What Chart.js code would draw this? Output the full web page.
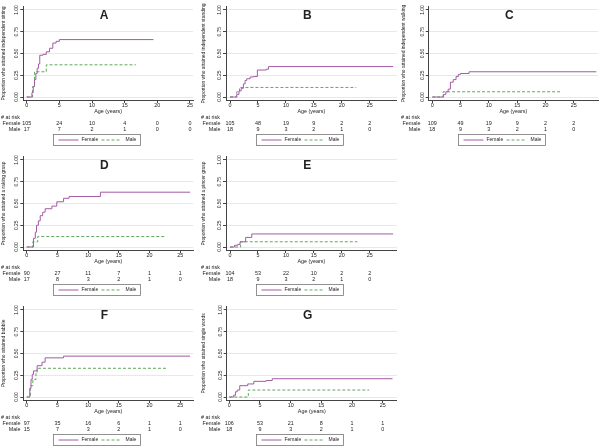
<!DOCTYPE html>
<html>
<head>
<meta charset="utf-8">
<script src="https://cdn.jsdelivr.net/npm/chart.js@4/dist/chart.umd.min.js"></script>
<style>
  html, body { margin: 0; padding: 0; background: #fff; }
  #wrap { position: relative; width: 600px; height: 446px; overflow: hidden; }
  canvas { position: absolute; }
</style>
</head>
<body>
<div id="wrap"></div>
<script>
// tick labels / categories
const riskTimes = [0, 5, 10, 15, 20, 25];
const yTickValues = [0, 0.25, 0.5, 0.75, 1];
const yTickLabels = ["0.00", "0.25", "0.50", "0.75", "1.00"];
const seriesNames = ["Female", "Male"];

// A - independent sitting
const sittingFemaleAge  = [0, 0.5, 0.8, 1.0, 1.2, 1.4, 1.6, 1.8, 2.0, 2.5, 3.0, 3.5, 4.0, 4.5, 5.0, 19.4];
const sittingFemaleProp = [0, 0, 0.05, 0.12, 0.2, 0.27, 0.33, 0.38, 0.48, 0.49, 0.52, 0.56, 0.62, 0.64, 0.66, 0.66];
const sittingMaleAge  = [0, 0.6, 0.9, 1.2, 3.0, 16.7];
const sittingMaleProp = [0, 0, 0.12, 0.29, 0.37, 0.37];
const sittingFemaleRisk = [105, 24, 10, 4, 0, 0];
const sittingMaleRisk   = [17, 7, 2, 1, 0, 0];

// B - independent standing
const standingFemaleAge  = [0, 0.8, 1.2, 1.6, 2.0, 2.4, 2.7, 3.0, 3.6, 4.2, 4.9, 6.5, 6.9, 29.2];
const standingFemaleProp = [0, 0, 0.03, 0.07, 0.1, 0.15, 0.19, 0.21, 0.23, 0.235, 0.31, 0.32, 0.35, 0.35];
const standingMaleAge  = [0, 1.2, 1.7, 22.6];
const standingMaleProp = [0, 0.06, 0.11, 0.11];
const standingFemaleRisk = [105, 48, 19, 9, 2, 2];
const standingMaleRisk   = [18, 9, 3, 2, 1, 0];

// C - independent walking
const walkingFemaleAge  = [0, 1.5, 2.0, 2.4, 2.8, 3.2, 3.7, 4.2, 4.6, 5.0, 6.5, 29.0];
const walkingFemaleProp = [0, 0, 0.03, 0.06, 0.09, 0.17, 0.2, 0.235, 0.26, 0.27, 0.29, 0.29];
const walkingMaleAge  = [0, 1.9, 22.8];
const walkingMaleProp = [0, 0.06, 0.06];
const walkingFemaleRisk = [109, 49, 19, 9, 2, 2];
const walkingMaleRisk   = [18, 9, 3, 2, 1, 0];

// D - raking grasp
const rakingFemaleAge  = [0, 0.8, 1.1, 1.4, 1.6, 1.9, 2.2, 2.6, 3.0, 4.1, 4.9, 6.0, 6.9, 12.0, 26.6];
const rakingFemaleProp = [0, 0, 0.1, 0.17, 0.25, 0.3, 0.36, 0.4, 0.44, 0.47, 0.52, 0.56, 0.58, 0.63, 0.63];
const rakingMaleAge  = [0, 0.6, 1.0, 1.8, 22.7];
const rakingMaleProp = [0, 0, 0.06, 0.12, 0.12];
const rakingFemaleRisk = [90, 27, 11, 7, 1, 1];
const rakingMaleRisk   = [17, 8, 3, 2, 1, 0];

// E - pincer grasp
const pincerFemaleAge  = [0, 0.8, 1.4, 1.8, 2.8, 3.9, 29.2];
const pincerFemaleProp = [0, 0.02, 0.03, 0.06, 0.11, 0.15, 0.15];
const pincerMaleAge  = [0, 1.9, 22.8];
const pincerMaleProp = [0, 0.06, 0.06];
const pincerFemaleRisk = [104, 53, 22, 10, 2, 2];
const pincerMaleRisk   = [18, 9, 3, 2, 1, 0];

// F - babble
const babbleFemaleAge  = [0, 0.3, 0.5, 0.7, 0.9, 1.1, 1.7, 2.5, 3.0, 6.0, 26.6];
const babbleFemaleProp = [0, 0, 0.1, 0.2, 0.26, 0.3, 0.36, 0.4, 0.45, 0.47, 0.47];
const babbleMaleAge  = [0, 0.3, 0.6, 1.0, 1.5, 1.7, 22.7];
const babbleMaleProp = [0, 0, 0.13, 0.2, 0.27, 0.33, 0.33];
const babbleFemaleRisk = [97, 35, 16, 6, 1, 1];
const babbleMaleRisk   = [15, 7, 3, 2, 1, 0];

// G - single words
const wordsFemaleAge  = [0, 0.7, 1.0, 1.3, 1.7, 3.0, 4.0, 6.0, 7.0, 26.6];
const wordsFemaleProp = [0, 0.02, 0.06, 0.08, 0.13, 0.15, 0.18, 0.19, 0.21, 0.21];
const wordsMaleAge  = [0, 3.1, 22.8];
const wordsMaleProp = [0, 0.08, 0.08];
const wordsFemaleRisk = [106, 53, 21, 8, 1, 1];
const wordsMaleRisk   = [18, 9, 3, 2, 1, 0];

const FEMALE = "#a35ba5";
const MALE = "#5fa85f";
const AXIS = "#444";
const GRID = "#e2ebe6";
const TEXT = "#222";
const FONT = '"Liberation Sans", Arial, sans-serif';
const W = 200, H = 146;

const panels = [
  { letter: "A", yTitle: "Proportion who attained independent sitting", f: [sittingFemaleAge, sittingFemaleProp], m: [sittingMaleAge, sittingMaleProp], fr: sittingFemaleRisk, mr: sittingMaleRisk, pos: [0, 0], axisLeft: 23.3, zero: 26.7, x25: 190, right: 193 },
  { letter: "B", yTitle: "Proportion who attained independent standing", f: [standingFemaleAge, standingFemaleProp], m: [standingMaleAge, standingMaleProp], fr: standingFemaleRisk, mr: standingMaleRisk, pos: [200, 0], axisLeft: 26, zero: 30, x25: 169.7, right: 196.7 },
  { letter: "C", yTitle: "Proportion who attained independent walking", f: [walkingFemaleAge, walkingFemaleProp], m: [walkingMaleAge, walkingMaleProp], fr: walkingFemaleRisk, mr: walkingMaleRisk, pos: [400, 0], axisLeft: 28.7, zero: 32.3, x25: 173.7, right: 198 },
  { letter: "D", yTitle: "Proportion who attained a raking grasp", f: [rakingFemaleAge, rakingFemaleProp], m: [rakingMaleAge, rakingMaleProp], fr: rakingFemaleRisk, mr: rakingMaleRisk, pos: [0, 150], axisLeft: 23.3, zero: 26.7, x25: 180.3, right: 193.3 },
  { letter: "E", yTitle: "Proportion who attained a pincer grasp", f: [pincerFemaleAge, pincerFemaleProp], m: [pincerMaleAge, pincerMaleProp], fr: pincerFemaleRisk, mr: pincerMaleRisk, pos: [200, 150], axisLeft: 26, zero: 30, x25: 169.7, right: 196.7 },
  { letter: "F", yTitle: "Proportion who attained babble", f: [babbleFemaleAge, babbleFemaleProp], m: [babbleMaleAge, babbleMaleProp], fr: babbleFemaleRisk, mr: babbleMaleRisk, pos: [0, 300], axisLeft: 23.3, zero: 26.7, x25: 180.3, right: 193.3 },
  { letter: "G", yTitle: "Proportion who attained single words", f: [wordsFemaleAge, wordsFemaleProp], m: [wordsMaleAge, wordsMaleProp], fr: wordsFemaleRisk, mr: wordsMaleRisk, pos: [200, 300], axisLeft: 26.7, zero: 29.3, x25: 182.7, right: 196.8 }
];

function toPoints(xs, ys) {
  return xs.map((x, i) => ({ x: x, y: ys[i] }));
}

// titles, tick labels, risk table and legend drawn from the chart's scales
const panelText = {
  id: "panelText",
  afterDraw(chart, args, o) {
    const ctx = chart.ctx;
    const a = chart.chartArea;
    const x = chart.scales.x, y = chart.scales.y;
    const mid = (a.left + a.right) / 2;
    ctx.save();
    ctx.fillStyle = TEXT;
    ctx.textBaseline = "middle";
    ctx.textAlign = "center";

    ctx.font = "bold 12px " + FONT;
    ctx.fillText(o.letter, mid - 4, 16);

    ctx.font = "5px " + FONT;
    yTickValues.forEach((v, i) => {
      ctx.save();
      ctx.translate(a.left - 6.5, y.getPixelForValue(v));
      ctx.rotate(-Math.PI / 2);
      ctx.fillText(yTickLabels[i], 0, 0);
      ctx.restore();
    });

    ctx.save();
    ctx.font = "4.9px " + FONT;
    ctx.translate(3.5, (y.getPixelForValue(0) + y.getPixelForValue(1)) / 2);
    ctx.rotate(-Math.PI / 2);
    ctx.fillText(o.yTitle, 0, 0);
    ctx.restore();

    ctx.font = "5.4px " + FONT;
    riskTimes.forEach(v => ctx.fillText(String(v), x.getPixelForValue(v), 106));
    ctx.fillText("Age (years)", mid, 111.5);

    ctx.textAlign = "left";
    ctx.fillText("# at risk", 1, 117.5);
    ctx.textAlign = "right";
    ctx.fillText(seriesNames[0], 20.5, 123.5);
    ctx.fillText(seriesNames[1], 20.5, 129.3);
    ctx.textAlign = "center";
    riskTimes.forEach((v, i) => {
      const px = x.getPixelForValue(v);
      ctx.fillText(String(o.femaleRisk[i]), px, 123.5);
      ctx.fillText(String(o.maleRisk[i]), px, 129.3);
    });

    // legend
    const bx = Math.round(mid - 12 - 43.5) + 0.5, by = 134.5;
    ctx.fillStyle = "#fff";
    ctx.fillRect(bx, by, 87, 11);
    ctx.strokeStyle = "#777";
    ctx.lineWidth = 0.8;
    ctx.strokeRect(bx, by, 87, 11);
    ctx.lineWidth = 1;
    ctx.strokeStyle = FEMALE;
    ctx.beginPath(); ctx.moveTo(bx + 5, by + 5.5); ctx.lineTo(bx + 25, by + 5.5); ctx.stroke();
    ctx.strokeStyle = MALE;
    ctx.setLineDash([3, 2]);
    ctx.beginPath(); ctx.moveTo(bx + 48, by + 5.5); ctx.lineTo(bx + 68, by + 5.5); ctx.stroke();
    ctx.setLineDash([]);
    ctx.fillStyle = TEXT;
    ctx.textAlign = "left";
    ctx.font = "5px " + FONT;
    ctx.fillText(seriesNames[0], bx + 28, by + 5.6);
    ctx.fillText(seriesNames[1], bx + 72, by + 5.6);
    ctx.restore();
  }
};

const wrap = document.getElementById("wrap");
panels.forEach(p => {
  const canvas = document.createElement("canvas");
  canvas.width = W;
  canvas.height = H;
  canvas.style.left = p.pos[0] + "px";
  canvas.style.top = p.pos[1] + "px";
  wrap.appendChild(canvas);

  const pxPerYear = (p.x25 - p.zero) / 25;
  const xMin = -(p.zero - p.axisLeft) / pxPerYear;
  const xMax = (p.right - p.zero) / pxPerYear;

  new Chart(canvas.getContext("2d"), {
    type: "line",
    data: {
      datasets: [
        { label: seriesNames[0], data: toPoints(p.f[0], p.f[1]), borderColor: FEMALE, borderWidth: 1, pointRadius: 0, stepped: true, fill: false },
        { label: seriesNames[1], data: toPoints(p.m[0], p.m[1]), borderColor: MALE, borderWidth: 1, borderDash: [3, 2], pointRadius: 0, stepped: true, fill: false }
      ]
    },
    options: {
      responsive: false,
      animation: false,
      devicePixelRatio: 1,
      layout: { padding: { top: 6, right: W - p.right, bottom: 0, left: 0 } },
      plugins: {
        legend: { display: false },
        tooltip: { enabled: false },
        panelText: { letter: p.letter, yTitle: p.yTitle, femaleRisk: p.fr, maleRisk: p.mr }
      },
      scales: {
        x: {
          type: "linear",
          min: xMin,
          max: xMax,
          afterBuildTicks: s => { s.ticks = riskTimes.map(v => ({ value: v })); },
          afterFit: s => { s.height = H - 100; },
          ticks: { display: false },
          grid: { drawOnChartArea: false, drawTicks: true, tickLength: 3, tickColor: AXIS },
          border: { color: AXIS, width: 1 }
        },
        y: {
          type: "linear",
          min: -3 / 87,
          max: 1 + 4 / 87,
          afterBuildTicks: s => { s.ticks = yTickValues.map(v => ({ value: v })); },
          afterFit: s => { s.width = p.axisLeft; },
          ticks: { display: false },
          grid: { color: GRID, lineWidth: 1, drawTicks: true, tickLength: 3, tickColor: AXIS },
          border: { color: AXIS, width: 1 }
        }
      }
    },
    plugins: [panelText]
  });
});
</script>
</body>
</html>
